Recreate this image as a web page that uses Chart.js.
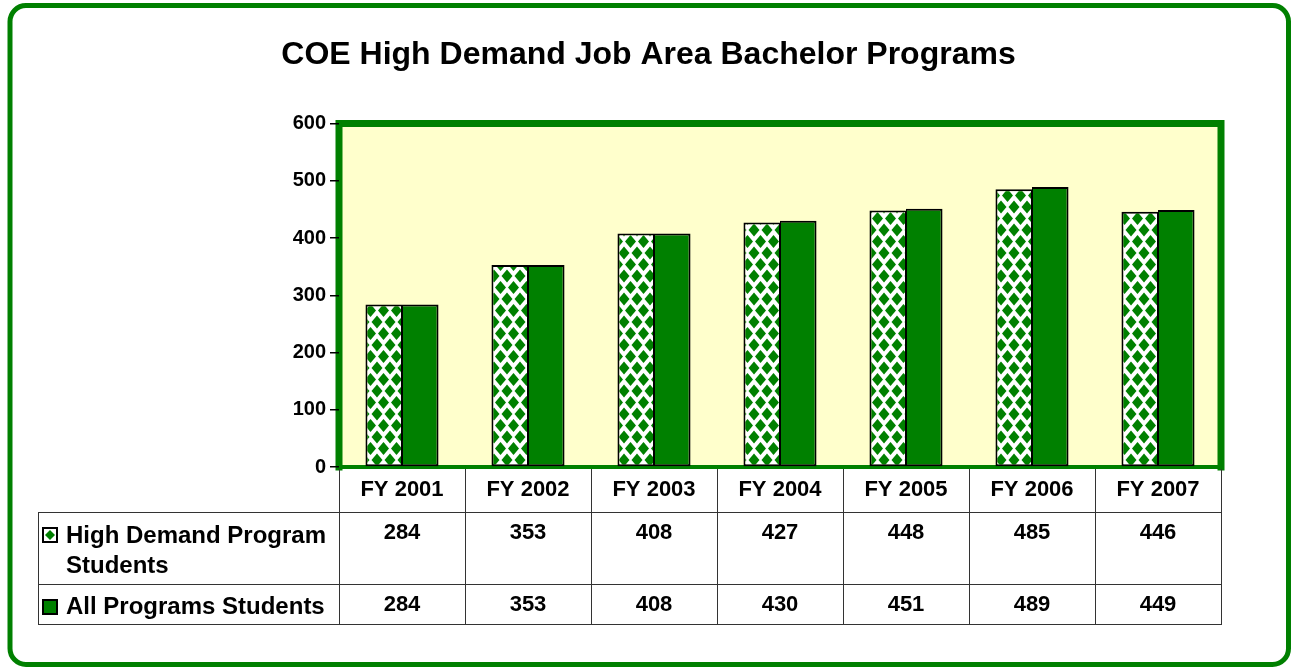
<!DOCTYPE html>
<html>
<head>
<meta charset="utf-8">
<script src="https://cdn.jsdelivr.net/npm/chart.js@4/dist/chart.umd.min.js"></script>
<style>
  body { margin: 0; background: #ffffff; }
  canvas { display: block; }
</style>
</head>
<body>
<canvas id="coeChart" width="1291" height="667"></canvas>
<script>
// Chart data
const chartTitle = "COE High Demand Job Area Bachelor Programs";
const categories = ["FY 2001", "FY 2002", "FY 2003", "FY 2004", "FY 2005", "FY 2006", "FY 2007"];
const highDemandStudents = [284, 353, 408, 427, 448, 485, 446];
const allProgramsStudents = [284, 353, 408, 430, 451, 489, 449];
const seriesLabels = [["High Demand Program", "Students"], ["All Programs Students"]];
const yMax = 600;
const yStep = 100;

const GREEN = "#008000";
const YELLOW = "#ffffcc";
const FONT = "'Liberation Sans', Arial, sans-serif";

Chart.defaults.font.family = FONT;

let ctx = document.getElementById("coeChart").getContext("2d");

// White/green diamond fill for the first series
function makeDiamondPattern(c) {
    let w = 13, h = 23;
    let rx = 5.5, ry = 6.4;
    let tile = document.createElement("canvas");
    tile.width = w;
    tile.height = h;
    let t = tile.getContext("2d");
    t.fillStyle = "#ffffff";
    t.fillRect(0, 0, w, h);
    t.fillStyle = GREEN;
    function diamond(cx, cy) {
        t.beginPath();
        t.moveTo(cx, cy - ry);
        t.lineTo(cx + rx, cy);
        t.lineTo(cx, cy + ry);
        t.lineTo(cx - rx, cy);
        t.closePath();
        t.fill();
    }
    diamond(w / 2, h / 2);
    diamond(0, 0);
    diamond(w, 0);
    diamond(0, h);
    diamond(w, h);
    return c.createPattern(tile, "repeat");
}
let diamondPattern = makeDiamondPattern(ctx);

// Frame, title and plot background
const backdropPlugin = {
    id: "backdrop",
    beforeDraw(chart) {
        let c = chart.ctx;
        let a = chart.chartArea;
        c.save();
        c.fillStyle = "#ffffff";
        c.fillRect(0, 0, chart.width, chart.height);

        c.strokeStyle = GREEN;
        c.lineWidth = 5;
        c.beginPath();
        c.roundRect(10, 5.5, 1278.5, 659, 16);
        c.stroke();

        c.fillStyle = "#000000";
        c.font = "bold 32px " + FONT;
        c.textAlign = "center";
        c.textBaseline = "middle";
        c.fillText(chartTitle, 648.5, 55);

        c.fillStyle = YELLOW;
        c.fillRect(a.left, a.top, a.right - a.left, a.bottom - a.top);

        c.strokeStyle = GREEN;
        c.lineCap = "square";
        c.lineWidth = 7;
        c.beginPath();
        c.moveTo(a.left, a.bottom);
        c.lineTo(a.left, a.top);
        c.lineTo(a.right, a.top);
        c.lineTo(a.right, a.bottom);
        c.stroke();
        c.lineWidth = 4;
        c.beginPath();
        c.moveTo(a.left, a.bottom);
        c.lineTo(a.right, a.bottom);
        c.stroke();
        c.restore();
    }
};

// Data table under the plot
const dataTablePlugin = {
    id: "dataTable",
    afterDraw(chart) {
        let c = chart.ctx;
        let a = chart.chartArea;
        let x = chart.scales.x;
        let step = (a.right - a.left) / categories.length;
        let tableLeft = 38;
        let rowLines = [512, 584, 624];
        c.save();
        c.strokeStyle = "#333333";
        c.lineWidth = 1;

        // vertical lines at category boundaries
        for (let i = 0; i <= categories.length; i++) {
            let px = Math.round(x.getPixelForValue(i) - step / 2) + 0.5;
            c.beginPath();
            c.moveTo(px, a.bottom + 2);
            c.lineTo(px, rowLines[2]);
            c.stroke();
        }
        c.beginPath();
        c.moveTo(tableLeft + 0.5, rowLines[0]);
        c.lineTo(tableLeft + 0.5, rowLines[2]);
        c.stroke();
        rowLines.forEach(y => {
            c.beginPath();
            c.moveTo(tableLeft, y + 0.5);
            c.lineTo(a.right + 1, y + 0.5);
            c.stroke();
        });

        // legend keys
        c.lineWidth = 2;
        c.strokeStyle = "#000000";
        c.fillStyle = "#ffffff";
        c.fillRect(43, 528, 14, 14);
        c.strokeRect(43, 528, 14, 14);
        c.fillStyle = GREEN;
        c.beginPath();
        c.moveTo(50, 530);
        c.lineTo(55, 535);
        c.lineTo(50, 540);
        c.lineTo(45, 535);
        c.closePath();
        c.fill();
        c.fillRect(43, 600, 14, 14);
        c.strokeRect(43, 600, 14, 14);

        // row labels
        c.fillStyle = "#000000";
        c.textBaseline = "middle";
        c.textAlign = "left";
        c.font = "bold 24px " + FONT;
        c.fillText(seriesLabels[0][0], 66, 536);
        c.fillText(seriesLabels[0][1], 66, 566);
        c.fillText(seriesLabels[1][0], 66, 607);

        // values
        c.textAlign = "center";
        c.font = "bold 22px " + FONT;
        categories.forEach((cat, i) => {
            let px = x.getPixelForValue(i);
            c.fillText(String(highDemandStudents[i]), px, 533);
            c.fillText(String(allProgramsStudents[i]), px, 605);
        });
        c.restore();
    }
};

new Chart(ctx, {
    type: "bar",
    data: {
        labels: categories,
        datasets: [
            {
                label: seriesLabels[0].join(" "),
                data: highDemandStudents,
                backgroundColor: diamondPattern,
                borderColor: "#000000",
                borderWidth: { top: 2, left: 2, right: 1, bottom: 2 },
                borderSkipped: false
            },
            {
                label: seriesLabels[1][0],
                data: allProgramsStudents,
                backgroundColor: GREEN,
                borderColor: "#000000",
                borderWidth: { top: 2, left: 1, right: 2, bottom: 2 },
                borderSkipped: false
            }
        ]
    },
    options: {
        responsive: false,
        animation: false,
        devicePixelRatio: 1,
        layout: { padding: { top: 123.5, right: 70, bottom: 0, left: 0 } },
        categoryPercentage: 0.58,
        barPercentage: 1,
        plugins: {
            legend: { display: false },
            title: { display: false },
            tooltip: { enabled: false }
        },
        scales: {
            x: {
                grid: { display: false, drawTicks: false },
                border: { display: false },
                ticks: {
                    color: "#000000",
                    font: { size: 22, weight: "bold" },
                    padding: 10,
                    maxRotation: 0,
                    autoSkip: false
                },
                afterFit: function (scale) { scale.height = 200; }
            },
            y: {
                min: 0,
                max: yMax,
                grid: {
                    display: true,
                    drawOnChartArea: false,
                    drawTicks: true,
                    tickLength: 9,
                    color: "#000000",
                    lineWidth: 1.5
                },
                border: { display: false },
                ticks: {
                    stepSize: yStep,
                    color: "#000000",
                    font: { size: 20, weight: "bold" },
                    padding: 4
                },
                afterFit: function (scale) { scale.width = 339; }
            }
        }
    },
    plugins: [backdropPlugin, dataTablePlugin]
});
</script>
</body>
</html>
